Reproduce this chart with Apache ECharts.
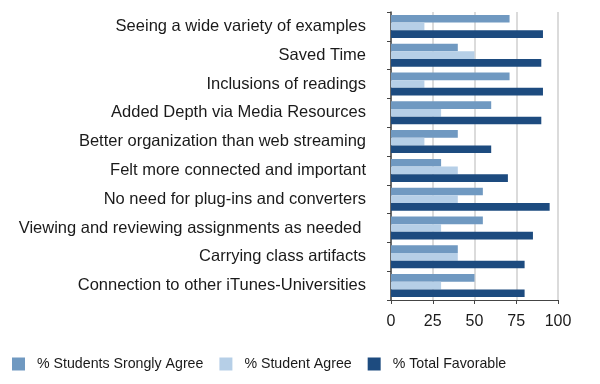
<!DOCTYPE html>
<html>
<head>
<meta charset="utf-8">
<script src="https://cdn.jsdelivr.net/npm/echarts@6/dist/echarts.min.js"></script>
<style>html,body{margin:0;padding:0;background:#fff;}#c{width:600px;height:384px;}</style>
</head>
<body>
<div id="c"></div>
<script>
const categories = [
  "Seeing a wide variety of examples",
  "Saved Time",
  "Inclusions of readings",
  "Added Depth via Media Resources",
  "Better organization than web streaming",
  "Felt more connected and important",
  "No need for plug-ins and converters",
  "Viewing and reviewing assignments as needed ",
  "Carrying class artifacts",
  "Connection to other iTunes-Universities"
];
const stronglyAgree = [71, 40, 71, 60, 40, 30, 55, 55, 40, 50];
const agree = [20, 50, 20, 30, 20, 40, 40, 30, 40, 30];
const totalFavorable = [91, 90, 91, 90, 60, 70, 95, 85, 80, 80];
const xTicks = [0, 25, 50, 75, 100];
const seriesNames = ["% Students Srongly Agree", "% Student Agree", "% Total Favorable"];
const colors = ["#7099c1", "#b6cfe7", "#1d4b7f"];

const chart = echarts.init(document.getElementById('c'));
const font = "'Liberation Sans', Arial, Helvetica, sans-serif";
chart.setOption({
  animation: false,
  textStyle: { fontFamily: font },
  grid: { left: 391, right: 42, top: 12, bottom: 84 },
  legend: {
    bottom: 8, left: 7,
    itemWidth: 13, itemHeight: 13, itemGap: 16,
    icon: 'rect',
    textStyle: { fontSize: 14.2, color: '#1a1a1a', fontFamily: font, padding: [0, 0, 0, 7] },
    data: seriesNames
  },
  xAxis: {
    type: 'value', min: xTicks[0], max: xTicks[xTicks.length - 1], interval: 25,
    axisLine: { show: true, lineStyle: { color: '#444', width: 1 } },
    axisTick: { show: true, length: 4, lineStyle: { color: '#444' } },
    axisLabel: { fontSize: 16, color: '#1a1a1a', margin: 14, fontFamily: font },
    splitLine: { show: true, lineStyle: { color: '#cfcfcf', width: 1.5 } }
  },
  yAxis: {
    type: 'category', data: categories, inverse: true,
    axisLine: { show: true, lineStyle: { color: '#444', width: 1.5 } },
    axisTick: { show: true, length: 4, lineStyle: { color: '#444' } },
    axisLabel: { fontSize: 16.5, color: '#1a1a1a', margin: 25, fontFamily: font, padding: [2, 0, 0, 0] },
    splitLine: { show: false }
  },
  series: [
    { name: seriesNames[0], type: 'bar', data: stronglyAgree, itemStyle: { color: colors[0] }, barGap: '0%', barCategoryGap: '20%' },
    { name: seriesNames[1], type: 'bar', data: agree, itemStyle: { color: colors[1] }, barGap: '0%', barCategoryGap: '20%' },
    { name: seriesNames[2], type: 'bar', data: totalFavorable, itemStyle: { color: colors[2] }, barGap: '0%', barCategoryGap: '20%' }
  ]
});
</script>
</body>
</html>
